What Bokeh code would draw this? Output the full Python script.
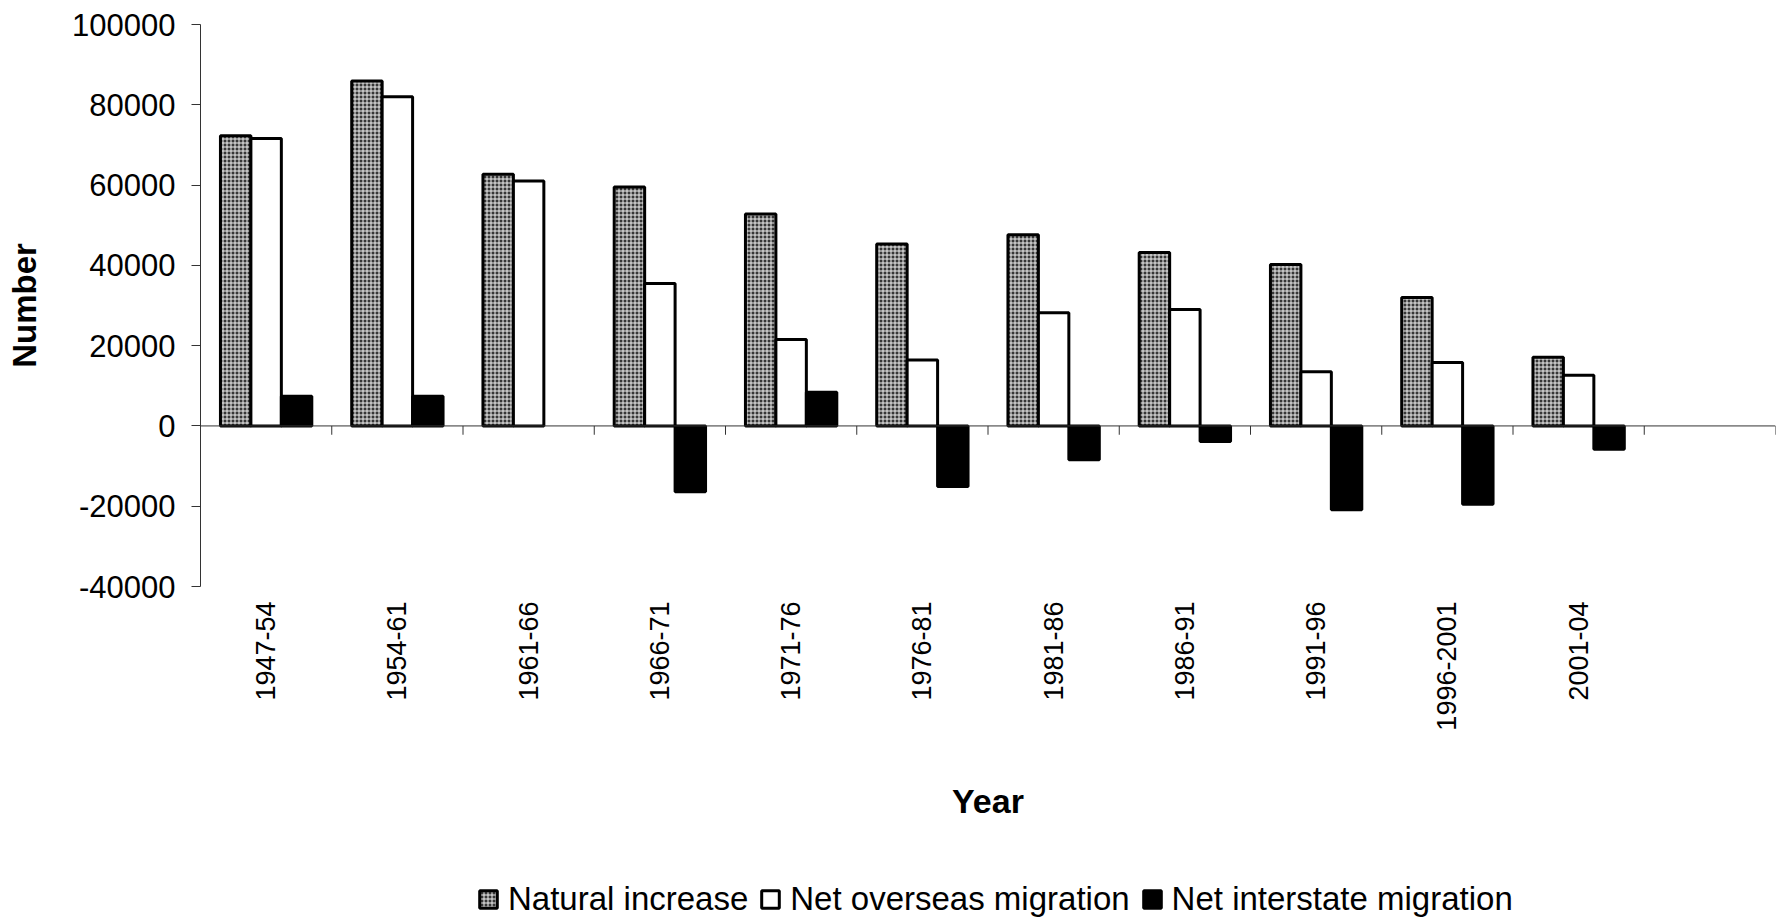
import math
from bokeh.plotting import figure
from bokeh.layouts import column
from bokeh.models import (FactorRange, Range1d, FixedTicker, NumeralTickFormatter,
                          Span, Legend, LegendItem, ColumnDataSource)
from bokeh.transform import dodge
from bokeh.embed import file_html
from bokeh.resources import INLINE

nan = float("nan")

categories = ["1947-54", "1954-61", "1961-66", "1966-71", "1971-76", "1976-81",
              "1981-86", "1986-91", "1991-96", "1996-2001", "2001-04"]
natural_increase = [72300, 85900, 62700, 59500, 52800, 45300, 47600, 43200, 40200, 32000, 17100]
net_overseas = [71600, 82000, 61000, 35500, 21500, 16400, 28200, 29000, 13500, 15800, 12600]
net_interstate = [7400, 7400, nan, -16400, 8400, -15100, -8400, -3900, -20900, -19500, -5800]
series_names = ["Natural increase", "Net overseas migration", "Net interstate migration"]
y_ticks = [-40000, -20000, 0, 20000, 40000, 60000, 80000, 100000]

factors = categories + [" "]  # empty trailing category slot as in the original

FONT = "Liberation Sans"
BW = 0.232
W = 1777

STYLES = [
    dict(fill_color="#363636", hatch_pattern="+", hatch_color="#f0f0f0", hatch_scale=4,
         hatch_weight=1, line_color="black", line_width=3),
    dict(fill_color="white", line_color="black", line_width=3),
    dict(fill_color="black", line_color="black", line_width=3),
]
COLS = ["nat", "ovs", "ints"]
OFFS = [-BW, 0, BW]

src = ColumnDataSource(dict(cat=categories, nat=natural_increase,
                            ovs=net_overseas, ints=net_interstate))

xr = FactorRange(factors=factors)
p = figure(x_range=xr, y_range=Range1d(y_ticks[0], y_ticks[-1]),
           width=W, height=872, output_backend="svg", toolbar_location=None,
           min_border_left=200, min_border_right=2, min_border_top=24, min_border_bottom=286)
p.xgrid.grid_line_color = None
p.ygrid.grid_line_color = None
p.outline_line_color = None
p.background_fill_color = "white"

for off, col, st in zip(OFFS, COLS, STYLES):
    p.vbar(x=dodge("cat", off, range=xr), top=col, bottom=0, width=BW, source=src, **st)

# zero line with category-boundary ticks
p.add_layout(Span(location=0, dimension="width", line_color="#333333", line_width=1))
tick_len = 2200
bsrc = ColumnDataSource(dict(f=factors, y0=[0] * len(factors), y1=[-tick_len] * len(factors)))
p.segment(x0=dodge("f", -0.5, range=xr), y0="y0", x1=dodge("f", -0.5, range=xr),
          y1="y1", source=bsrc, line_color="#333333", line_width=1)
esrc = ColumnDataSource(dict(f=[factors[-1]], y0=[0], y1=[-tick_len]))
p.segment(x0=dodge("f", 0.5, range=xr), y0="y0", x1=dodge("f", 0.5, range=xr),
          y1="y1", source=esrc, line_color="#333333", line_width=1)

# y axis
ya = p.yaxis[0]
ya.ticker = FixedTicker(ticks=y_ticks, minor_ticks=[])
ya.formatter = NumeralTickFormatter(format="0")
ya.axis_line_color = "#333333"
ya.major_tick_line_color = "#333333"
ya.major_tick_out = 9
ya.major_tick_in = 0
ya.minor_tick_line_color = None
ya.major_label_standoff = 16
ya.major_label_text_font = FONT
ya.major_label_text_font_size = "31px"
ya.major_label_text_color = "black"
ya.axis_label = "Number"
ya.axis_label_text_font = FONT
ya.axis_label_text_font_style = "bold"
ya.axis_label_text_font_size = "33px"
ya.axis_label_text_color = "black"
ya.axis_label_standoff = 26

# x axis
xa = p.xaxis[0]
xa.axis_line_color = None
xa.major_tick_line_color = None
xa.major_tick_out = 0
xa.major_tick_in = 0
xa.major_label_orientation = math.pi / 2
xa.major_label_standoff = 15
xa.major_label_text_font = FONT
xa.major_label_text_font_size = "27px"
xa.major_label_text_color = "black"
xa.axis_label = "Year"
xa.axis_label_text_font = FONT
xa.axis_label_text_font_style = "bold"
xa.axis_label_text_font_size = "34px"
xa.axis_label_text_color = "black"
xa.axis_label_standoff = 48

# legend strip below the chart (its bar renderers are hidden; only the swatches show)
lg = figure(width=W, height=46, x_range=xr, y_range=Range1d(y_ticks[0], y_ticks[-1]),
            output_backend="svg", toolbar_location=None, min_border=0,
            min_border_left=200, min_border_right=2,
            x_axis_location=None, y_axis_location=None)
lg.xgrid.grid_line_color = None
lg.ygrid.grid_line_color = None
lg.outline_line_color = None
items = []
for name, off, col, st in zip(series_names, OFFS, COLS, STYLES):
    r = lg.vbar(x=dodge("cat", off, range=xr), top=col, bottom=0, width=BW, source=src,
                visible=False, **st)
    items.append(LegendItem(label=name, renderers=[r]))
legend = Legend(items=items, location=(277, 0), orientation="horizontal", padding=0, margin=0,
                spacing=11, label_standoff=9, glyph_width=22, glyph_height=22,
                border_line_color=None, background_fill_alpha=0,
                inactive_fill_alpha=0,
                label_text_font=FONT, label_text_font_size="33px", label_text_color="black")
lg.add_layout(legend)

page = column(p, lg, spacing=0)
open("out.html", "w").write(file_html(page, INLINE))
